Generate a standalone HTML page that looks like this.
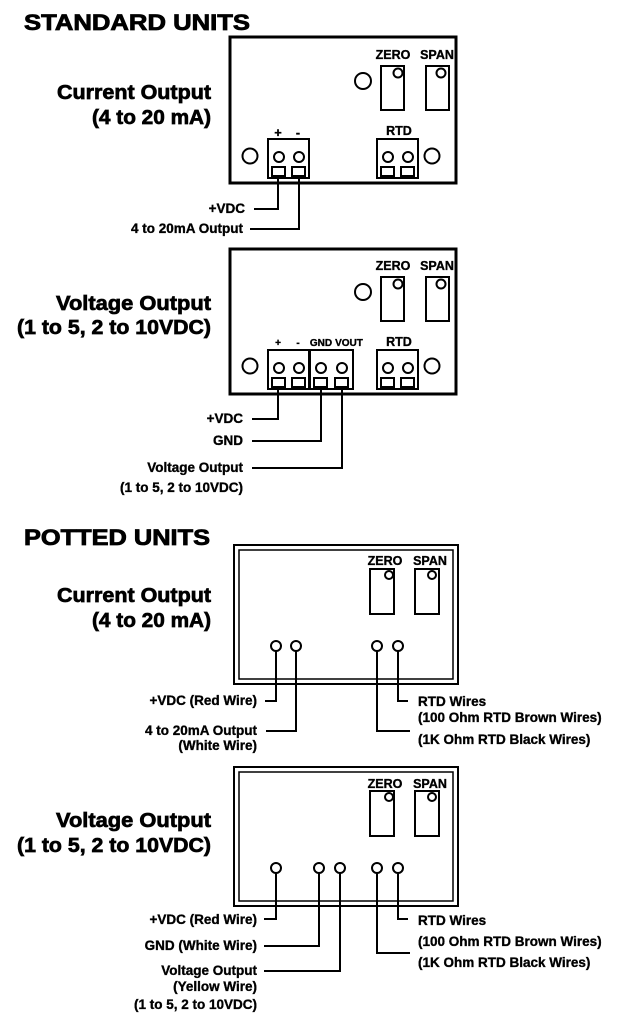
<!DOCTYPE html>
<html><head><meta charset="utf-8"><style>
html,body{margin:0;padding:0;background:#fff;}
svg{display:block;}
text{font-family:"Liberation Sans",sans-serif;font-weight:bold;fill:#000;stroke:#000;stroke-width:0.35;}
.h{font-size:22px;stroke-width:0.8;}
.t{font-size:20px;text-anchor:end;stroke-width:0.7;}
.s{font-size:13.5px;text-anchor:end;}
.l{font-size:13.5px;}
.c{font-size:12.5px;text-anchor:middle;}
</style></head><body>
<svg width="618" height="1028" viewBox="0 0 618 1028" xmlns="http://www.w3.org/2000/svg">
<g fill="none" stroke="#000">
<rect x="230" y="37" width="226" height="146" stroke-width="3"/>
<circle cx="363" cy="81" r="8" stroke-width="2"/>
<rect x="381" y="66" width="23" height="44" stroke-width="2"/>
<circle cx="398" cy="73" r="4.5" stroke-width="2"/>
<rect x="426" y="66" width="23" height="44" stroke-width="2"/>
<circle cx="441" cy="73" r="4.5" stroke-width="2"/>
<circle cx="250" cy="156" r="7.5" stroke-width="2"/>
<circle cx="432" cy="156" r="7.5" stroke-width="2"/>
<rect x="268" y="139" width="41" height="39" stroke-width="2"/>
<circle cx="279" cy="157" r="5" stroke-width="2"/><circle cx="299" cy="157" r="5" stroke-width="2"/>
<rect x="272" y="167" width="13" height="9" stroke-width="2"/><rect x="292" y="167" width="13" height="9" stroke-width="2"/>
<rect x="377" y="139" width="41" height="39" stroke-width="2"/>
<circle cx="388" cy="157" r="5" stroke-width="2"/><circle cx="408" cy="157" r="5" stroke-width="2"/>
<rect x="381" y="167" width="13" height="9" stroke-width="2"/><rect x="401" y="167" width="13" height="9" stroke-width="2"/>
<polyline points="278,176 278,209 254,209" stroke-width="2"/>
<polyline points="299,176 299,229 250,229" stroke-width="2"/>

<rect x="230" y="249" width="226" height="145" stroke-width="3"/>
<circle cx="363" cy="292" r="8" stroke-width="2"/>
<rect x="381" y="277" width="23" height="44" stroke-width="2"/>
<circle cx="398" cy="284" r="4.5" stroke-width="2"/>
<rect x="426" y="277" width="23" height="44" stroke-width="2"/>
<circle cx="441" cy="284" r="4.5" stroke-width="2"/>
<circle cx="250" cy="366" r="7.5" stroke-width="2"/>
<circle cx="432" cy="366" r="7.5" stroke-width="2"/>
<rect x="268" y="350" width="41" height="39" stroke-width="2"/>
<rect x="310" y="350" width="43" height="39" stroke-width="2"/>
<circle cx="279" cy="368" r="5" stroke-width="2"/><circle cx="299" cy="368" r="5" stroke-width="2"/>
<circle cx="321" cy="368" r="5" stroke-width="2"/><circle cx="342" cy="368" r="5" stroke-width="2"/>
<rect x="272" y="378" width="13" height="9" stroke-width="2"/><rect x="292" y="378" width="13" height="9" stroke-width="2"/>
<rect x="314" y="378" width="13" height="9" stroke-width="2"/><rect x="335" y="378" width="13" height="9" stroke-width="2"/>
<rect x="377" y="350" width="41" height="39" stroke-width="2"/>
<circle cx="388" cy="368" r="5" stroke-width="2"/><circle cx="408" cy="368" r="5" stroke-width="2"/>
<rect x="381" y="378" width="13" height="9" stroke-width="2"/><rect x="401" y="378" width="13" height="9" stroke-width="2"/>
<polyline points="278,387 278,419 252,419" stroke-width="2"/>
<polyline points="321,387 321,441 252,441" stroke-width="2"/>
<polyline points="342,387 342,468 252,468" stroke-width="2"/>

<rect x="234" y="545" width="224" height="139" stroke-width="2"/>
<rect x="239" y="550" width="214" height="129" stroke-width="1.5"/>
<rect x="370" y="569" width="24" height="45" stroke-width="2"/>
<circle cx="389" cy="575" r="4" stroke-width="2"/>
<rect x="415" y="569" width="24" height="45" stroke-width="2"/>
<circle cx="432" cy="575" r="4" stroke-width="2"/>
<circle cx="276" cy="646" r="5" stroke-width="2"/><circle cx="296" cy="646" r="5" stroke-width="2"/>
<circle cx="377" cy="646" r="5" stroke-width="2"/><circle cx="398" cy="646" r="5" stroke-width="2"/>
<polyline points="276,651 276,701 265,701" stroke-width="2"/>
<polyline points="296,651 296,731 266,731" stroke-width="2"/>
<polyline points="398,651 398,701 408,701" stroke-width="2"/>
<polyline points="377,651 377,731 410,731" stroke-width="2"/>

<rect x="234" y="767" width="224" height="139" stroke-width="2"/>
<rect x="239" y="772" width="214" height="129" stroke-width="1.5"/>
<rect x="370" y="791" width="24" height="45" stroke-width="2"/>
<circle cx="389" cy="797" r="4" stroke-width="2"/>
<rect x="415" y="791" width="24" height="45" stroke-width="2"/>
<circle cx="432" cy="797" r="4" stroke-width="2"/>
<circle cx="276" cy="868" r="5" stroke-width="2"/><circle cx="319" cy="868" r="5" stroke-width="2"/>
<circle cx="340" cy="868" r="5" stroke-width="2"/>
<circle cx="377" cy="868" r="5" stroke-width="2"/><circle cx="398" cy="868" r="5" stroke-width="2"/>
<polyline points="276,873 276,919 264,919" stroke-width="2"/>
<polyline points="319,873 319,946 264,946" stroke-width="2"/>
<polyline points="340,873 340,971 264,971" stroke-width="2"/>
<polyline points="398,873 398,919 408,919" stroke-width="2"/>
<polyline points="377,873 377,953 410,953" stroke-width="2"/>
</g>

<text class="h" x="24" y="30" textLength="226" lengthAdjust="spacingAndGlyphs">STANDARD UNITS</text>
<text class="h" x="24" y="545" textLength="186" lengthAdjust="spacingAndGlyphs">POTTED UNITS</text>

<text class="t" x="211" y="99" textLength="154" lengthAdjust="spacingAndGlyphs">Current Output</text>
<text class="t" x="211" y="124" textLength="119" lengthAdjust="spacingAndGlyphs">(4 to 20 mA)</text>
<text class="t" x="211" y="310" textLength="155" lengthAdjust="spacingAndGlyphs">Voltage Output</text>
<text class="t" x="211" y="334" textLength="194" lengthAdjust="spacingAndGlyphs">(1 to 5, 2 to 10VDC)</text>
<text class="t" x="211" y="602" textLength="154" lengthAdjust="spacingAndGlyphs">Current Output</text>
<text class="t" x="211" y="627" textLength="119" lengthAdjust="spacingAndGlyphs">(4 to 20 mA)</text>
<text class="t" x="211" y="827" textLength="155" lengthAdjust="spacingAndGlyphs">Voltage Output</text>
<text class="t" x="211" y="852" textLength="194" lengthAdjust="spacingAndGlyphs">(1 to 5, 2 to 10VDC)</text>

<text class="c" x="393" y="59">ZERO</text><text class="c" x="437" y="59">SPAN</text>
<text class="c" x="278" y="137">+</text><text class="c" x="298" y="137">-</text>
<text class="c" x="399" y="135">RTD</text>
<text class="s" x="245" y="213">+VDC</text>
<text class="s" x="243" y="233">4 to 20mA Output</text>

<text class="c" x="393" y="270">ZERO</text><text class="c" x="437" y="270">SPAN</text>
<text class="c" x="278" y="346" style="font-size:10px">+</text><text class="c" x="298" y="346" style="font-size:10px">-</text>
<text class="c" x="321" y="346" style="font-size:10px">GND</text><text class="c" x="349" y="346" style="font-size:10px">VOUT</text>
<text class="c" x="399" y="346">RTD</text>
<text class="s" x="243" y="423">+VDC</text>
<text class="s" x="243" y="445">GND</text>
<text class="s" x="243" y="472">Voltage Output</text>
<text class="s" x="243" y="492">(1 to 5, 2 to 10VDC)</text>

<text class="c" x="385" y="565">ZERO</text><text class="c" x="430" y="565">SPAN</text>
<text class="s" x="257" y="705">+VDC (Red Wire)</text>
<text class="s" x="257" y="735">4 to 20mA Output</text>
<text class="s" x="257" y="750">(White Wire)</text>
<text class="l" x="418" y="706">RTD Wires</text>
<text class="l" x="418" y="722">(100 Ohm RTD Brown Wires)</text>
<text class="l" x="418" y="744">(1K Ohm RTD Black Wires)</text>

<text class="c" x="385" y="788">ZERO</text><text class="c" x="430" y="788">SPAN</text>
<text class="s" x="257" y="924">+VDC (Red Wire)</text>
<text class="s" x="257" y="950">GND (White Wire)</text>
<text class="s" x="257" y="975">Voltage Output</text>
<text class="s" x="257" y="991">(Yellow Wire)</text>
<text class="s" x="257" y="1009">(1 to 5, 2 to 10VDC)</text>
<text class="l" x="418" y="925">RTD Wires</text>
<text class="l" x="418" y="946">(100 Ohm RTD Brown Wires)</text>
<text class="l" x="418" y="967">(1K Ohm RTD Black Wires)</text>
</svg>
</body></html>
